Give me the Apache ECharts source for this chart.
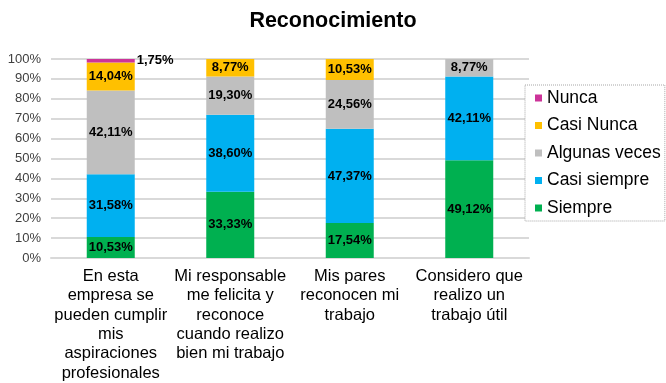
<!DOCTYPE html>
<html>
<head>
<meta charset="utf-8">
<script src="https://cdn.jsdelivr.net/npm/echarts@6/dist/echarts.min.js"></script>
<style>
  html, body { margin: 0; padding: 0; background: #fff; }
  #chart { width: 666px; height: 383px; }
</style>
</head>
<body>
<div id="chart"></div>
<script>
// Survey categories (statements), each bar stacks to 100%
const categories = [
  'En esta\nempresa se\npueden cumplir\nmis\naspiraciones\nprofesionales',
  'Mi responsable\nme felicita y\nreconoce\ncuando realizo\nbien mi trabajo',
  'Mis pares\nreconocen mi\ntrabajo',
  'Considero que\nrealizo un\ntrabajo útil'
];

// Percentages per answer option (null = no responses)
const siempre      = [10.53, 33.33, 17.54, 49.12];
const casiSiempre  = [31.58, 38.60, 47.37, 42.11];
const algunasVeces = [42.11, 19.30, 24.56, 8.77];
const casiNunca    = [14.04, 8.77, 10.53, null];
const nunca        = [1.75, null, null, null];

const yTicks = { min: 0, max: 100, interval: 10 };

const fontFamily = '"Liberation Sans", Arial, sans-serif';

function fmt(p) {
  return p.value.toFixed(2).replace('.', ',') + '%';
}

function mkSeries(name, data, color, labelPos) {
  return {
    name: name,
    type: 'bar',
    stack: 'total',
    barWidth: 48,
    data: data,
    itemStyle: { color: color },
    label: {
      show: true,
      position: labelPos || 'inside',
      formatter: fmt,
      color: '#000',
      fontWeight: 'bold',
      fontSize: 13,
      fontFamily: fontFamily,
      distance: 2
    }
  };
}

const chart = echarts.init(document.getElementById('chart'), null, { renderer: 'canvas' });

chart.setOption({
  animation: false,
  backgroundColor: '#fff',
  title: {
    text: 'Reconocimiento',
    left: 'center',
    top: 5,
    textStyle: { fontSize: 21.5, fontWeight: 'bold', color: '#000', fontFamily: fontFamily }
  },
  grid: { left: 51, right: 137, top: 59, bottom: 125, containLabel: false },
  legend: {
    orient: 'vertical',
    left: 525,
    top: 85,
    padding: [4, 4, 4, 10],
    itemWidth: 7,
    itemHeight: 7,
    itemGap: 9.5,
    icon: 'rect',
    backgroundColor: '#fff',
    borderColor: '#A6A6A6',
    borderWidth: 1,
    borderType: 'dotted',
    textStyle: { fontSize: 17.5, color: '#000', fontFamily: fontFamily, lineHeight: 18 },
    data: ['Nunca', 'Casi Nunca', 'Algunas veces', 'Casi siempre', 'Siempre']
  },
  xAxis: {
    type: 'category',
    data: categories,
    axisTick: { show: false },
    axisLine: { lineStyle: { color: '#D9D9D9', width: 2 } },
    axisLabel: {
      interval: 0,
      color: '#000',
      fontSize: 16.5,
      lineHeight: 19.3,
      fontFamily: fontFamily,
      margin: 9,
      align: 'center'
    }
  },
  yAxis: {
    type: 'value',
    min: yTicks.min,
    max: yTicks.max,
    interval: yTicks.interval,
    axisLine: { show: false },
    axisTick: { show: false },
    splitLine: { lineStyle: { color: '#D9D9D9', width: 2 } },
    axisLabel: {
      formatter: '{value}%',
      color: '#404040',
      fontSize: 13,
      fontFamily: fontFamily,
      margin: 10
    }
  },
  series: [
    mkSeries('Siempre', siempre, '#00B050'),
    mkSeries('Casi siempre', casiSiempre, '#00B0F0'),
    mkSeries('Algunas veces', algunasVeces, '#BFBFBF'),
    mkSeries('Casi Nunca', casiNunca, '#FFC000'),
    mkSeries('Nunca', nunca, '#CC3399', 'right')
  ]
});
</script>
</body>
</html>
